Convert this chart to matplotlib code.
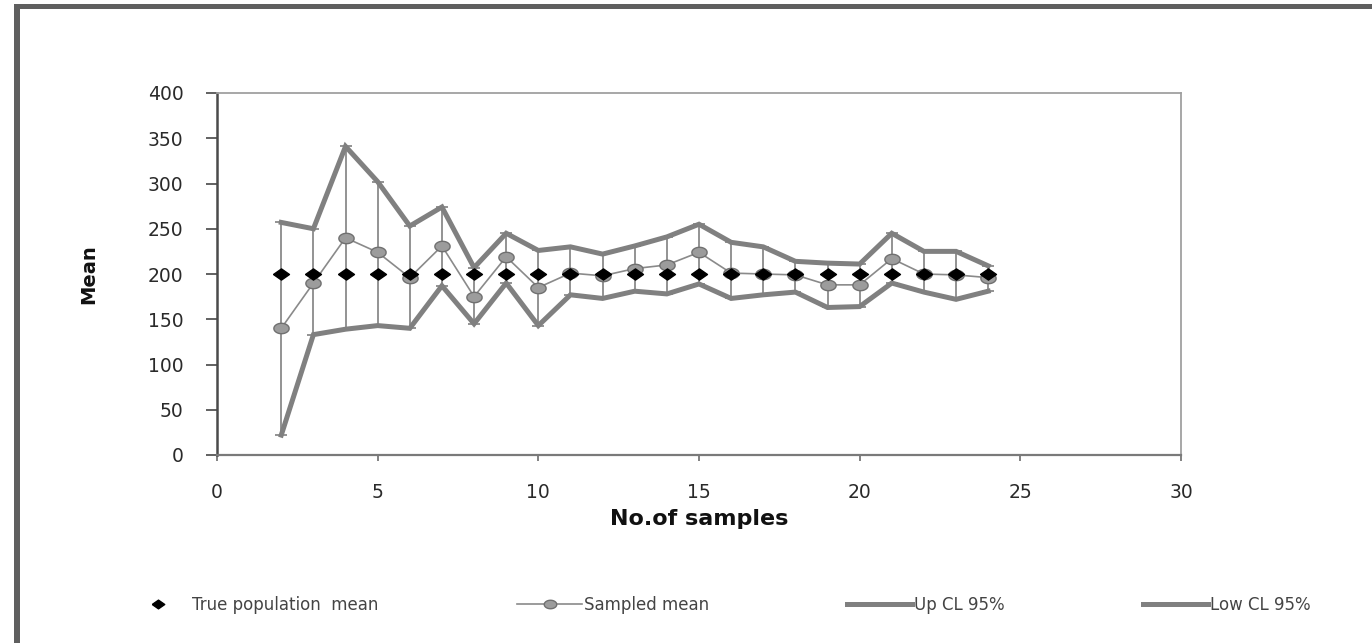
import numpy as np
import matplotlib
matplotlib.use("Agg")
import matplotlib.pyplot as plt
from matplotlib.lines import Line2D
from matplotlib.patches import Rectangle

# --- data -------------------------------------------------------------
n_samples = [2, 3, 4, 5, 6, 7, 8, 9, 10, 11, 12, 13, 14, 15, 16, 17, 18, 19, 20, 21, 22, 23, 24]
true_mean = [200] * len(n_samples)
sampled_mean = [140, 190, 240, 224, 196, 231, 175, 219, 185, 201, 198, 206, 210, 224, 201,
                200, 199, 188, 188, 217, 200, 199, 196]
up_cl = [257, 250, 341, 302, 253, 274, 207, 245, 226, 230, 222, 231, 241, 255, 235,
         230, 214, 212, 211, 245, 225, 225, 209]
low_cl = [22, 133, 139, 143, 140, 187, 145, 190, 143, 177, 173, 181, 178, 189, 173,
          177, 180, 163, 164, 190, 180, 172, 181]

x_ticks = [0, 5, 10, 15, 20, 25, 30]
y_ticks = [0, 50, 100, 150, 200, 250, 300, 350, 400]

# --- marker shapes (slightly flattened, as in spreadsheet charts) ------
diamond = [(-1.0, 0.0), (0.0, 0.7), (1.0, 0.0), (0.0, -0.7), (-1.0, 0.0)]
t = np.linspace(0, 2 * np.pi, 40)
ellipse = list(zip(np.cos(t), 0.68 * np.sin(t)))

plt.rcParams['font.family'] = ['DejaVu Sans']

fig = plt.figure(figsize=(13.72, 6.43), dpi=100)
fig.patch.set_facecolor('white')

# frame around the figure (top and left edges)
fig.patches.append(Rectangle((14 / 1372, 0), 6 / 1372, 1 - 5 / 643,
                             transform=fig.transFigure, facecolor='#5f5f5f',
                             edgecolor='none', zorder=0))
fig.patches.append(Rectangle((14 / 1372, 1 - 9 / 643), 1 - 14 / 1372, 5 / 643,
                             transform=fig.transFigure, facecolor='#5f5f5f',
                             edgecolor='none', zorder=0))

ax = fig.add_axes([217 / 1372, 1 - 455 / 643, (1181 - 217) / 1372, (455 - 93) / 643])

x = np.array(n_samples)
sm = np.array(sampled_mean)
up = np.array(up_cl)
lo = np.array(low_cl)

# confidence interval bars
ax.errorbar(x, sm, yerr=[sm - lo, up - sm], fmt='none', ecolor='#8a8a8a',
            elinewidth=1.3, capsize=4.5, capthick=1.3, zorder=1)

ax.plot(x, up, color='#808080', lw=3.6, solid_joinstyle='miter', zorder=2,
        label='Up CL 95%')
ax.plot(x, lo, color='#808080', lw=3.6, solid_joinstyle='miter', zorder=2,
        label='Low CL 95%')
ax.plot(x, sm, color='#8a8a8a', lw=1.2, marker=ellipse, markersize=11,
        markerfacecolor='#9c9c9c', markeredgecolor='#707070', markeredgewidth=1,
        zorder=3, label='Sampled mean')
ax.plot(x, true_mean, linestyle='none', marker=diamond, markersize=11.5,
        color='black', zorder=4, label='True population mean')

ax.set_xlim(0, 30)
ax.set_ylim(0, 400)
ax.set_xticks(x_ticks)
ax.set_yticks(y_ticks)

for side in ['top', 'right']:
    ax.spines[side].set_color('#a0a0a0')
    ax.spines[side].set_linewidth(1.3)
ax.spines['left'].set_color('#4a4a4a')
ax.spines['left'].set_linewidth(1.8)
ax.spines['bottom'].set_color('#7a7a7a')
ax.spines['bottom'].set_linewidth(1.6)

ax.tick_params(axis='y', direction='out', length=8, width=1.3, color='#555555',
               pad=16, labelsize=13.5, labelcolor='#2a2a2a')
ax.tick_params(axis='x', direction='out', length=4, width=1.3, color='#777777',
               pad=16, labelsize=13.5, labelcolor='#2a2a2a')

ax.set_xlabel('No.of samples', fontsize=16, fontweight='bold', labelpad=5,
              color='#111111')
ax.set_ylabel('Mean', fontsize=14, fontweight='bold', labelpad=36,
              color='#111111')

handles = [
    Line2D([], [], linestyle='none', marker=diamond, markersize=9, color='black'),
    Line2D([], [], color='#8a8a8a', lw=1.2, marker=ellipse, markersize=9,
           markerfacecolor='#9c9c9c', markeredgecolor='#707070'),
    Line2D([], [], color='#808080', lw=3.6),
    Line2D([], [], color='#808080', lw=3.6),
]
labels = ['True population  mean', 'Sampled mean', 'Up CL 95%', 'Low CL 95%']
leg = fig.legend(handles, labels, loc='center', bbox_to_anchor=(718 / 1372, 1 - 605 / 643),
                 ncol=4, frameon=False, fontsize=12, handlelength=3.9,
                 handletextpad=0.1, columnspacing=8.3)
for txt in leg.get_texts():
    txt.set_color('#444444')

fig.savefig('out.png', dpi=100, facecolor='white')
